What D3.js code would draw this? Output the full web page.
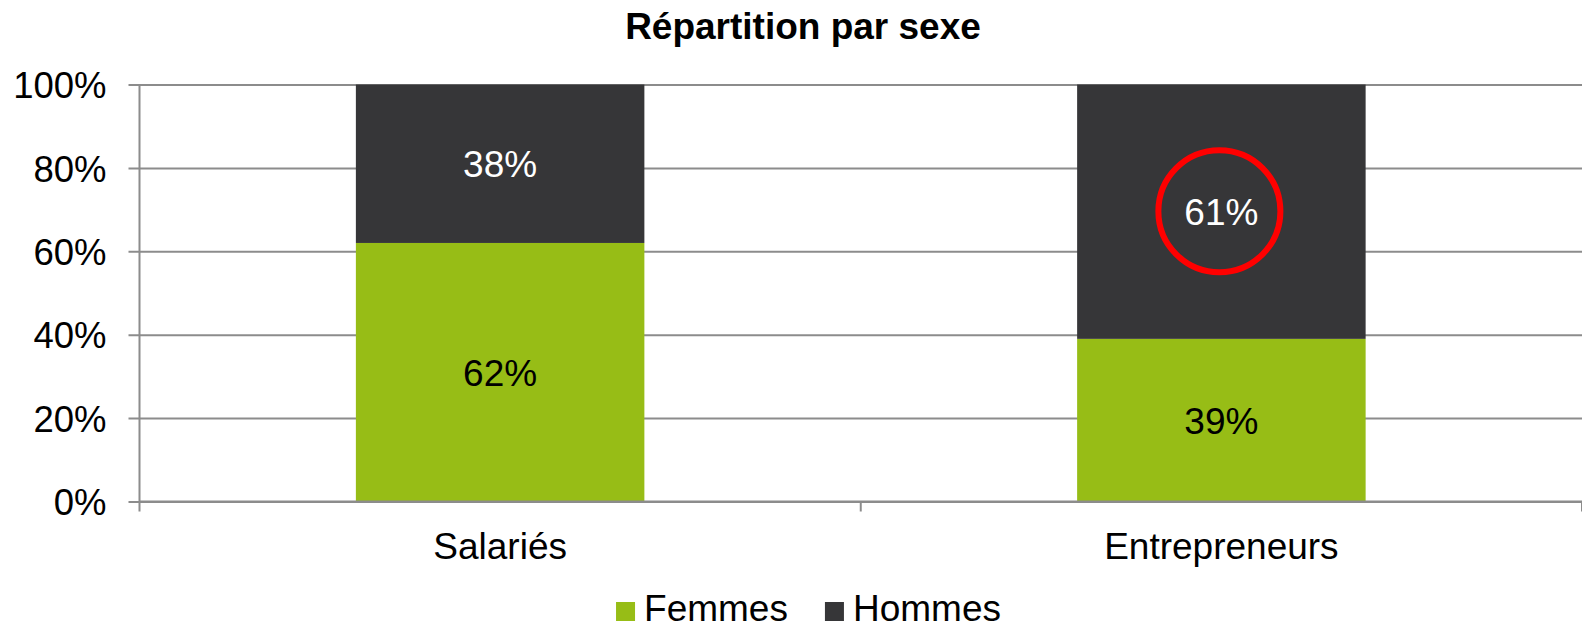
<!DOCTYPE html>
<html>
<head>
<meta charset="utf-8">
<script src="https://cdn.jsdelivr.net/npm/d3@7"></script>
<style>
  body { margin: 0; background: #fff; }
  svg text { font-family: "Liberation Sans", Arial, sans-serif; }
</style>
</head>
<body>
<div id="chart"></div>
<script>
const categories = ['Salariés', 'Entrepreneurs'];
const femmes = [62, 39];
const hommes = [38, 61];
const seriesNames = ['Femmes', 'Hommes'];
const seriesColors = ['#97bd16', '#363638'];
const labelColors = ['#000000', '#ffffff'];
const yTicks = [0, 20, 40, 60, 80, 100];
const highlighted = { category: 'Entrepreneurs', series: 'Hommes' };

const width = 1582;
const height = 628;
const margin = { top: 84.5, right: 0, bottom: 126.5, left: 139.5 };
const w = width - margin.left - margin.right;
const h = height - margin.top - margin.bottom;
const fontSize = 37;

const svg = d3.select('#chart')
  .append('svg')
  .attr('width', width)
  .attr('height', height);

// title
svg.append('text')
  .attr('x', 803)
  .attr('y', 38.5)
  .attr('text-anchor', 'middle')
  .attr('font-size', fontSize)
  .attr('font-weight', 'bold')
  .attr('fill', '#000')
  .text('Répartition par sexe');

const g = svg.append('g')
  .attr('transform', `translate(${margin.left}, ${margin.top})`);

const xScale = d3.scaleBand()
  .domain(categories)
  .range([0, w])
  .paddingInner(0.6)
  .paddingOuter(0.3);

const yScale = d3.scaleLinear()
  .domain([0, 100])
  .range([h, 0]);

// gridlines + y axis
const yAxis = d3.axisLeft(yScale)
  .tickValues(yTicks)
  .tickSize(-w)
  .tickPadding(33)
  .tickFormat((d) => `${d}%`);

const yG = g.append('g')
  .attr('class', 'y axis')
  .call(yAxis);
yG.select('.domain').remove();
yG.selectAll('.tick line')
  .attr('x1', -11)
  .attr('stroke', '#8c8c8c')
  .attr('stroke-width', 2);
yG.selectAll('.tick text')
  .attr('font-size', 36.5)
  .attr('fill', '#000')
  .attr('dy', '0.36em');

// stacked data
const rows = categories.map((c, i) => ({ category: c, Femmes: femmes[i], Hommes: hommes[i] }));
const stacked = d3.stack().keys(seriesNames)(rows);

const layers = g.selectAll('.layer')
  .data(stacked)
  .join('g')
  .attr('class', 'layer')
  .attr('fill', (d, i) => seriesColors[i]);

layers.selectAll('rect')
  .data((d) => d)
  .join('rect')
  .attr('x', (d) => xScale(d.data.category))
  .attr('width', xScale.bandwidth())
  .attr('y', (d) => yScale(d[1]))
  .attr('height', (d) => yScale(d[0]) - yScale(d[1]));

// vertical axis line and category separators
g.append('line')
  .attr('x1', 0).attr('x2', 0)
  .attr('y1', 0).attr('y2', h + 10)
  .attr('stroke', '#8c8c8c')
  .attr('stroke-width', 2);

const sepPositions = [xScale.step() * 1, xScale.step() * 2];
g.selectAll('.sep')
  .data(sepPositions)
  .join('line')
  .attr('class', 'sep')
  .attr('x1', (d) => d).attr('x2', (d) => d)
  .attr('y1', h).attr('y2', h + 10)
  .attr('stroke', '#8c8c8c')
  .attr('stroke-width', 2);

g.append('line')
  .attr('x1', 0).attr('x2', w)
  .attr('y1', h).attr('y2', h)
  .attr('stroke', '#8c8c8c')
  .attr('stroke-width', 2);

// category labels
g.selectAll('.cat')
  .data(categories)
  .join('text')
  .attr('class', 'cat')
  .attr('x', (d) => xScale(d) + xScale.bandwidth() / 2)
  .attr('y', h + 57)
  .attr('text-anchor', 'middle')
  .attr('font-size', fontSize)
  .attr('fill', '#000')
  .text((d) => d);

// value labels
stacked.forEach((layer, si) => {
  g.selectAll(`.val-${si}`)
    .data(layer)
    .join('text')
    .attr('class', `val-${si}`)
    .attr('x', (d) => xScale(d.data.category) + xScale.bandwidth() / 2)
    .attr('y', (d) => (yScale(d[0]) + yScale(d[1])) / 2)
    .attr('dy', '0.36em')
    .attr('text-anchor', 'middle')
    .attr('font-size', fontSize)
    .attr('fill', labelColors[si])
    .text((d) => `${d[1] - d[0]}%`);
});

// red highlight ring
const hiLayer = stacked[seriesNames.indexOf(highlighted.series)];
const hiPoint = hiLayer[categories.indexOf(highlighted.category)];
g.append('ellipse')
  .attr('cx', xScale(highlighted.category) + xScale.bandwidth() / 2 - 2)
  .attr('cy', (yScale(hiPoint[0]) + yScale(hiPoint[1])) / 2 - 0.5)
  .attr('rx', 61)
  .attr('ry', 61)
  .attr('fill', 'none')
  .attr('stroke', '#ff0000')
  .attr('stroke-width', 6);

// legend
const legend = svg.append('g').attr('class', 'legend');
const items = legend.selectAll('g')
  .data(seriesNames)
  .join('g');
items.append('rect')
  .attr('width', 19)
  .attr('height', 19)
  .attr('y', -19)
  .attr('fill', (d, i) => seriesColors[i]);
items.append('text')
  .attr('x', 28)
  .attr('font-size', fontSize)
  .attr('fill', '#000')
  .text((d) => d);

const itemGap = 37;
let offset = 0;
items.each(function () {
  const item = d3.select(this);
  item.attr('transform', `translate(${offset}, 0)`);
  offset += 28 + item.select('text').node().getComputedTextLength() + itemGap;
});
const legendWidth = offset - itemGap;
legend.attr('transform', `translate(${808.5 - legendWidth / 2}, 621)`);
</script>
</body>
</html>
